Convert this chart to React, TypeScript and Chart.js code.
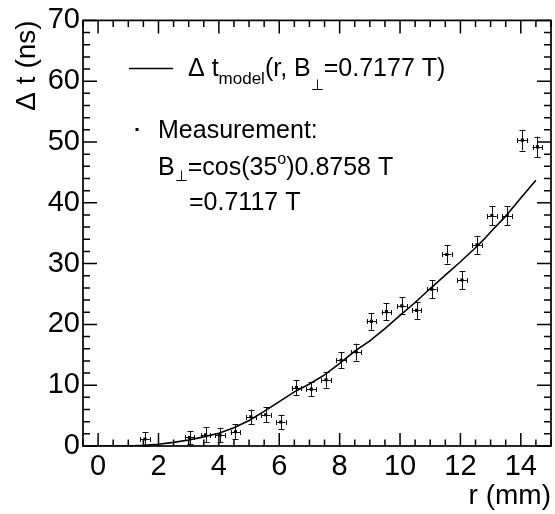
import React, { useEffect, useRef } from 'react';
import { Chart, registerables } from 'chart.js';

Chart.register(...registerables);

// Measurement points
const rValues = [1.55, 3.03, 3.56, 4.04, 4.55, 5.06, 5.55, 6.05, 6.57, 7.06, 7.55, 8.05, 8.55, 9.05, 9.55, 10.06, 10.55, 11.05, 11.55, 12.05, 12.55, 13.04, 13.55, 14.05, 14.55];
const dtValues = [1.15, 1.4, 1.85, 1.8, 2.35, 4.8, 5.15, 3.95, 9.6, 9.35, 10.9, 14.1, 15.45, 20.5, 22.1, 23.05, 22.3, 25.8, 31.5, 27.3, 33.1, 37.9, 37.9, 50.3, 49.2];
const dtErrors = [1.1, 1.1, 1.2, 1.2, 1.2, 1.2, 1.2, 1.2, 1.2, 1.2, 1.3, 1.3, 1.4, 1.4, 1.4, 1.4, 1.4, 1.5, 1.5, 1.5, 1.5, 1.6, 1.6, 1.7, 1.7];
const rError = 0.16;

// Model curve
const modelR = [0, 0.5, 1.0, 1.5, 2.0, 2.5, 3.0, 3.5, 4.0, 4.5, 5.0, 5.5, 6.0, 6.5, 7.0, 7.5, 8.0, 8.5, 9.0, 9.5, 10.0, 10.5, 11.0, 11.5, 12.0, 12.5, 12.8, 13.0, 13.5, 14.0, 14.5];
const modelDt = [0, 0, 0, 0.1, 0.3, 0.6, 1.0, 1.5, 2.1, 3.0, 4.2, 5.7, 7.3, 8.9, 10.2, 11.7, 13.6, 15.6, 17.3, 19.3, 21.5, 23.6, 25.9, 28.1, 30.3, 32.6, 34.1, 35.2, 37.8, 40.8, 43.7];

// Axes
const xTicks = [0, 2, 4, 6, 8, 10, 12, 14];
const yTicks = [0, 10, 20, 30, 40, 50, 60, 70];
const xMin = -0.5, xMax = 15, xMinorStep = 0.5;
const yMin = 0, yMax = 70, yMinorStep = 2;

const FONT = "'Liberation Sans', Arial, Helvetica, sans-serif";

type Seg = { t: string; size: number; dy?: number };

function drawRich(ctx: CanvasRenderingContext2D, x: number, y: number, segs: Seg[]) {
  let cx = x;
  ctx.textBaseline = 'alphabetic';
  ctx.textAlign = 'left';
  for (const s of segs) {
    ctx.font = `${s.size}px ${FONT}`;
    ctx.fillText(s.t, cx, y + (s.dy || 0));
    cx += ctx.measureText(s.t).width;
  }
}

const rootStyle = {
  id: 'rootStyle',
  beforeDatasetsDraw(chart: any) {
    const { ctx, scales } = chart;
    const xs = scales.x, ys = scales.y;
    ctx.save();
    ctx.strokeStyle = '#111';
    ctx.lineWidth = 1;
    for (let i = 0; i < rValues.length; i++) {
      const px = Math.round(xs.getPixelForValue(rValues[i])) + 0.5;
      const py = Math.round(ys.getPixelForValue(dtValues[i])) + 0.5;
      const y1 = ys.getPixelForValue(dtValues[i] - dtErrors[i]);
      const y2 = ys.getPixelForValue(dtValues[i] + dtErrors[i]);
      const x1 = xs.getPixelForValue(rValues[i] - rError);
      const x2 = xs.getPixelForValue(rValues[i] + rError);
      ctx.beginPath();
      ctx.moveTo(px, y1); ctx.lineTo(px, y2);
      ctx.moveTo(px - 3, Math.round(y1) + 0.5); ctx.lineTo(px + 3, Math.round(y1) + 0.5);
      ctx.moveTo(px - 3, Math.round(y2) + 0.5); ctx.lineTo(px + 3, Math.round(y2) + 0.5);
      ctx.moveTo(x1, py); ctx.lineTo(x2, py);
      ctx.moveTo(Math.round(x1) + 0.5, py - 2.5); ctx.lineTo(Math.round(x1) + 0.5, py + 2.5);
      ctx.moveTo(Math.round(x2) + 0.5, py - 2.5); ctx.lineTo(Math.round(x2) + 0.5, py + 2.5);
      ctx.stroke();
    }
    ctx.restore();
  },
  afterDraw(chart: any) {
    const { ctx, chartArea: a, scales } = chart;
    const xs = scales.x, ys = scales.y;
    ctx.save();
    ctx.strokeStyle = '#000';
    ctx.lineWidth = 1.5;
    // ticks
    ctx.beginPath();
    const xMajorLen = 13, xMinorLen = 6.5, yMajorLen = 14, yMinorLen = 7;
    for (let v = xMin; v <= xMax + 1e-9; v += xMinorStep) {
      const p = xs.getPixelForValue(v);
      const major = xTicks.some((t) => Math.abs(t - v) < 1e-6);
      const len = major ? xMajorLen : xMinorLen;
      ctx.moveTo(p, a.bottom); ctx.lineTo(p, a.bottom - len);
      ctx.moveTo(p, a.top); ctx.lineTo(p, a.top + len);
    }
    for (let v = yMin; v <= yMax + 1e-9; v += yMinorStep) {
      const p = ys.getPixelForValue(v);
      const major = yTicks.some((t) => Math.abs(t - v) < 1e-6);
      const len = major ? yMajorLen : yMinorLen;
      ctx.moveTo(a.left, p); ctx.lineTo(a.left + len, p);
      ctx.moveTo(a.right, p); ctx.lineTo(a.right - len, p);
    }
    ctx.stroke();
    // frame
    ctx.lineWidth = 1.7;
    ctx.strokeRect(a.left, a.top, a.right - a.left, a.bottom - a.top);

    // legend
    ctx.fillStyle = '#000';
    ctx.lineWidth = 1.3;
    ctx.beginPath();
    ctx.moveTo(129, 68.5); ctx.lineTo(173, 68.5);
    ctx.stroke();
    drawRich(ctx, 188, 76, [
      { t: '\u0394 t', size: 25 },
      { t: 'model', size: 17, dy: 8 },
      { t: '(r, B', size: 25 },
      { t: '\u22A5', size: 15, dy: 14 },
      { t: '=0.7177 T)', size: 25 },
    ]);
    ctx.fillRect(135.5, 128, 3, 3);
    drawRich(ctx, 158, 138, [{ t: 'Measurement:', size: 25 }]);
    drawRich(ctx, 158, 175, [
      { t: 'B', size: 25 },
      { t: '\u22A5', size: 15, dy: 6 },
      { t: '=cos(35', size: 25 },
      { t: 'o', size: 16, dy: -11 },
      { t: ')0.8758 T', size: 25 },
    ]);
    drawRich(ctx, 189, 210, [{ t: '=0.7117 T', size: 25 }]);
    ctx.restore();
  },
};

export default function App() {
  const ref = useRef<HTMLCanvasElement | null>(null);
  useEffect(() => {
    if (!ref.current) return;
    const chart = new Chart(ref.current, {
      data: {
        datasets: [
          {
            type: 'line',
            label: 'model',
            data: modelR.map((r, i) => ({ x: r, y: modelDt[i] })),
            borderColor: '#000',
            borderWidth: 1.6,
            pointRadius: 0,
            tension: 0,
            fill: false,
          } as any,
          {
            type: 'scatter',
            label: 'Measurement',
            data: rValues.map((r, i) => ({ x: r, y: dtValues[i] })),
            pointStyle: 'rect',
            pointRadius: 2.2,
            backgroundColor: '#000',
            borderWidth: 0,
          } as any,
        ],
      },
      options: {
        animation: false,
        responsive: true,
        maintainAspectRatio: false,
        layout: { padding: { top: 20, right: 2, left: 0, bottom: 0 } },
        plugins: { legend: { display: false }, tooltip: { enabled: false } },
        scales: {
          x: {
            type: 'linear',
            min: xMin,
            max: xMax,
            afterBuildTicks: (s: any) => { s.ticks = xTicks.map((v) => ({ value: v })); },
            afterFit: (s: any) => { s.height = 68; },
            grid: { display: false, drawTicks: false },
            border: { display: false },
            ticks: { color: '#000', font: { family: FONT, size: 29 }, padding: 4, maxRotation: 0, autoSkip: false },
            title: { display: true, text: 'r (mm)', align: 'end', color: '#000', font: { family: FONT, size: 28 }, padding: { top: 0, bottom: 1 } },
          },
          y: {
            type: 'linear',
            min: yMin,
            max: yMax,
            afterBuildTicks: (s: any) => { s.ticks = yTicks.map((v) => ({ value: v })); },
            afterFit: (s: any) => { s.width = 83; },
            grid: { display: false, drawTicks: false },
            border: { display: false },
            ticks: { color: '#000', font: { family: FONT, size: 29 }, padding: 3, autoSkip: false },
            title: { display: true, text: '\u0394 t (ns)', align: 'end', color: '#000', font: { family: FONT, size: 28 }, padding: { top: 10, bottom: 0 } },
          },
        },
      },
      plugins: [rootStyle],
    });
    return () => chart.destroy();
  }, []);
  return (
    <div style={{ position: 'fixed', left: 0, top: 0, width: 555, height: 514, background: '#fff' }}>
      <canvas ref={ref} />
    </div>
  );
}
